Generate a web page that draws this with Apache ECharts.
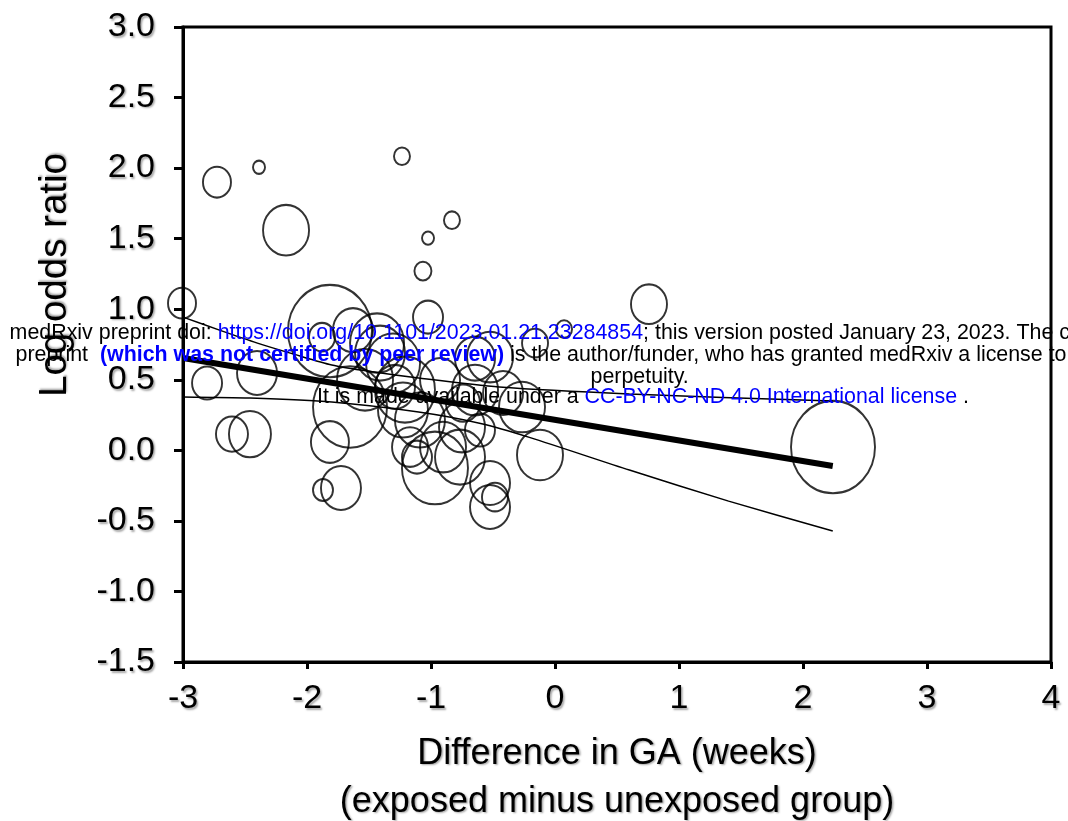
<!DOCTYPE html>
<html>
<head>
<meta charset="utf-8">
<script src="https://cdn.jsdelivr.net/npm/echarts@6/dist/echarts.min.js"></script>
<style>
html,body{margin:0;padding:0;background:#fff;overflow:hidden;}
#c{width:1068px;height:821px;}
</style>
</head>
<body>
<div id="c"></div>
<script>
// Study-level effect estimates (difference in GA, log odds ratio) and relative weights
const studyX = [-2.726,-2.387,-1.234,-2.169,-0.831,-1.024,-1.065,-3.008,-1.024,0.758,
  0.073,2.242,-2.806,-2.403,-2.605,-2.46,-1.871,-1.726,-1.815,-1.815,
  -1.879,-1.629,-1.435,-1.653,-1.411,-1.306,-1.226,-1.169,-1.113,-0.968,
  -0.903,-0.766,-0.742,-0.419,-0.524,-0.161,-0.266,-0.645,-0.121,-0.75,
  -0.605,-0.524,-0.484,-0.524,-0.927,-1.089,-1.21,-1.532,-0.645,-1.29];
const studyY = [1.90,2.006,2.084,1.56,1.631,1.504,1.27,1.043,0.944,1.036,
  0.859,0.023,0.477,0.548,0.115,0.115,-0.281,-0.267,0.059,0.845,
  0.802,0.852,0.76,0.307,0.689,0.618,0.286,0.023,-0.048,-0.125,
  0.023,-0.048,0.335,0.406,0.661,0.76,0.307,0.427,-0.033,0.165,
  0.144,-0.232,-0.331,-0.402,0.498,0.215,0.43,0.5,0.65,0.45];
const studyW = [1.4,0.6,0.8,2.3,0.8,0.6,0.85,1.4,1.5,1.8,
  0.8,4.2,1.5,2.0,1.6,2.1,1.0,2.0,1.9,4.2,
  1.3,2.0,2.7,3.7,2.5,2.7,2.5,1.8,1.5,3.3,
  2.3,2.5,1.7,2.0,2.3,1.3,2.3,2.3,2.3,2.3,
  1.5,2.0,1.3,2.0,2.0,2.5,3.0,2.8,2.0,2.0];

// Meta-regression fit and its confidence band
const fitX = [-3, 2.24];
const fitY = [0.654, -0.111];
const upperX = [-3, -2.7, -2.4, -2.1, -1.8, -1.5, -1.1, -0.45, 0.6, 2.24];
const upperY = [0.944, 0.85, 0.76, 0.68, 0.605, 0.56, 0.512, 0.448, 0.399, 0.349];
const lowerX = [-3, -2.46, -1.8, -1.1, -0.6, -0.2, 0.6, 1.4, 2.24];
const lowerY = [0.378, 0.370, 0.342, 0.271, 0.19, 0.09, -0.14, -0.36, -0.572];

const xTicks = [-3,-2,-1,0,1,2,3,4];
const yTicks = [-1.5,-1.0,-0.5,0.0,0.5,1.0,1.5,2.0,2.5,3.0];

const FONT = 'Liberation Sans, Arial, sans-serif';
const shadow = {textShadowColor:'rgba(0,0,0,0.35)', textShadowBlur:2, textShadowOffsetX:1.5, textShadowOffsetY:1.5};
const WM = 21.4;

const chart = echarts.init(document.getElementById('c'), null, {renderer:'canvas', width:1068, height:821});

const bubbles = studyX.map((x,i)=>[x, studyY[i], studyW[i]]);

const option = {
  backgroundColor:'#fff',
  animation:false,
  grid:{left:183, top:27, width:868, height:635, containLabel:false, outerBoundsMode:'none',
    show:true, borderColor:'#000', borderWidth:3, backgroundColor:'transparent'},
  xAxis:{
    type:'value', min:xTicks[0], max:xTicks[xTicks.length-1], interval:1,
    axisLine:{show:true, onZero:false, lineStyle:{color:'#000', width:3}},
    axisTick:{show:true, inside:false, length:7, lineStyle:{color:'#000', width:3}},
    splitLine:{show:false},
    axisLabel:{fontFamily:FONT, fontSize:34, color:'#000', margin:20, ...shadow, formatter:v=>String(v)},
    name:'Difference in GA (weeks)\n(exposed minus unexposed group)',
    nameLocation:'middle', nameGap:68,
    nameTextStyle:{fontFamily:FONT, fontSize:36, color:'#000', lineHeight:48, ...shadow}
  },
  yAxis:{
    type:'value', min:yTicks[0], max:yTicks[yTicks.length-1], interval:0.5,
    axisLine:{show:true, onZero:false, lineStyle:{color:'#000', width:3}},
    axisTick:{show:true, inside:false, length:9, lineStyle:{color:'#000', width:3}},
    splitLine:{show:false},
    axisLabel:{fontFamily:FONT, fontSize:34, color:'#000', margin:28, ...shadow, formatter:v=>v.toFixed(1)}
  },
  series:[
    {
      type:'scatter', data:bubbles, clip:false, z:2,
      symbol:'circle',
      symbolSize:d=>[d[2]*20, d[2]*22],
      itemStyle:{color:'rgba(0,0,0,0)', borderColor:'#000', borderWidth:2}
    },
    {
      type:'line', data:upperX.map((x,i)=>[x, upperY[i]]), smooth:0.25, symbol:'none', z:3,
      lineStyle:{color:'#000', width:1.5}
    },
    {
      type:'line', data:lowerX.map((x,i)=>[x, lowerY[i]]), smooth:0.25, symbol:'none', z:3,
      lineStyle:{color:'#000', width:1.5}
    },
    {
      type:'line', data:fitX.map((x,i)=>[x, fitY[i]]), symbol:'none', z:4,
      lineStyle:{color:'#000', width:6}
    }
  ],
  graphic:[
    {type:'text', x:55, y:275, rotation:Math.PI/2, z:10,
      style:{text:'Log odds ratio', fontFamily:FONT, fontSize:38.5, fill:'#000', align:'center', verticalAlign:'middle',
        textShadowColor:'rgba(0,0,0,0.35)', textShadowBlur:2, textShadowOffsetX:1.5, textShadowOffsetY:-1.5}},
    {type:'text', x:9.6, y:333, z:100,
      style:{text:'{k|medRxiv preprint doi: }{b|https://doi.org/10.1101/2023.01.21.23284854}{k|; this version posted January 23, 2023. The copyright holder for this}',
        align:'left', verticalAlign:'middle',
        rich:{k:{fontFamily:FONT, fontSize:WM, fill:'#000'}, b:{fontFamily:FONT, fontSize:WM, fill:'#0000ff'}}}},
    {type:'text', x:15.5, y:355, z:100,
      style:{text:'{k|preprint  }{bb|(which was not certified by peer review)}{k| is the author/funder, who has granted medRxiv a license to display the preprint in}',
        align:'left', verticalAlign:'middle',
        rich:{k:{fontFamily:FONT, fontSize:WM, fill:'#000'}, bb:{fontFamily:FONT, fontSize:WM, fontWeight:'bold', fill:'#0000ff'}}}},
    {type:'text', x:590.5, y:377, z:100,
      style:{text:'perpetuity.', fontFamily:FONT, fontSize:WM, fill:'#000', align:'left', verticalAlign:'middle'}},
    {type:'text', x:317, y:397, z:100,
      style:{text:'{k|It is made available under a }{b|CC-BY-NC-ND 4.0 International license}{k| .}',
        align:'left', verticalAlign:'middle',
        rich:{k:{fontFamily:FONT, fontSize:WM, fill:'#000'}, b:{fontFamily:FONT, fontSize:WM, fill:'#0000ff'}}}}
  ]
};
chart.setOption(option);
</script>
</body>
</html>
